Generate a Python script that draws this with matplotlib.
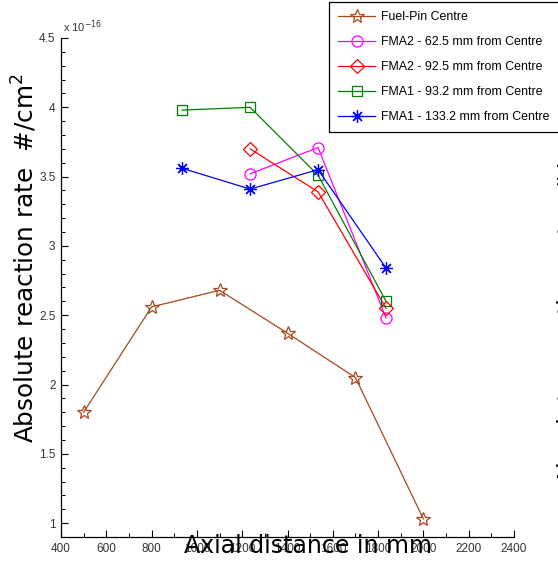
import matplotlib
matplotlib.use("Agg")
import matplotlib.pyplot as plt
from matplotlib.ticker import MultipleLocator

# Axial positions (mm) and reaction rates (in units of 1e-16 #/cm^2)
fuel_x = [500, 800, 1100, 1400, 1700, 2000]
fuel_y = [1.80, 2.56, 2.68, 2.37, 2.05, 1.03]

fma2_625_x = [1235, 1535, 1835]
fma2_625_y = [3.52, 3.71, 2.48]

fma2_925_x = [1235, 1535, 1835]
fma2_925_y = [3.70, 3.39, 2.55]

fma1_932_x = [935, 1235, 1535, 1835]
fma1_932_y = [3.98, 4.00, 3.51, 2.60]

fma1_1332_x = [935, 1235, 1535, 1835]
fma1_1332_y = [3.56, 3.41, 3.55, 2.84]

labels = [
    "Fuel-Pin Centre",
    "FMA2 - 62.5 mm from Centre",
    "FMA2 - 92.5 mm from Centre",
    "FMA1 - 93.2 mm from Centre",
    "FMA1 - 133.2 mm from Centre",
]

x_ticks = [400, 600, 800, 1000, 1200, 1400, 1600, 1800, 2000, 2200, 2400]
y_ticks = [1, 1.5, 2, 2.5, 3, 3.5, 4, 4.5]
y_tick_labels = ["1", "1.5", "2", "2.5", "3", "3.5", "4", "4.5"]

W, H = 558, 563
fig = plt.figure(figsize=(W / 100, H / 100), dpi=100)
ax = fig.add_axes([61 / W, 1 - 537 / H, (514 - 61) / W, (537 - 38) / H])

brown = "#A8481C"
ms = 8
ax.plot(fuel_x, fuel_y, color=brown, lw=0.9, marker="*", ms=ms + 2,
        mfc="none", mec=brown, mew=0.9, label=labels[0])
ax.plot(fma2_625_x, fma2_625_y, color="#FF00FF", lw=0.9, marker="o", ms=ms,
        mfc="none", mec="#FF00FF", mew=0.9, label=labels[1])
ax.plot(fma2_925_x, fma2_925_y, color="#FF0000", lw=0.9, marker="D", ms=ms - 1,
        mfc="none", mec="#FF0000", mew=0.9, label=labels[2])
ax.plot(fma1_932_x, fma1_932_y, color="#008000", lw=0.9, marker="s", ms=ms - 1,
        mfc="none", mec="#008000", mew=0.9, label=labels[3])
ax.plot(fma1_1332_x, fma1_1332_y, color="#0000FF", lw=0.9, marker=(8, 2, 0), ms=ms + 1,
        mfc="none", mec="#0000FF", mew=0.9, label=labels[4])

ax.set_xlim(400, 2400)
ax.set_ylim(0.9, 4.5)
ax.set_xticks(x_ticks)
ax.set_xticklabels([str(t) for t in x_ticks])
ax.set_yticks(y_ticks)
ax.set_yticklabels(y_tick_labels)
ax.xaxis.set_minor_locator(MultipleLocator(100))
ax.yaxis.set_minor_locator(MultipleLocator(0.1))

for side in ("top", "right"):
    ax.spines[side].set_visible(False)
for side in ("left", "bottom"):
    ax.spines[side].set_linewidth(0.9)
    ax.spines[side].set_color("black")

ax.tick_params(axis="both", which="major", direction="in", length=5, width=0.8,
               colors="black", labelcolor="#333333", pad=4)
ax.tick_params(axis="both", which="minor", direction="in", length=3, width=0.7)
for lab in ax.get_xticklabels() + ax.get_yticklabels():
    lab.set_fontfamily("Liberation Sans")
    lab.set_fontsize(8.5)

# scale factor for the y axis
fig.text(63 / W, 1 - 27 / H, "x 10$^{-16}$", fontsize=8, family="Liberation Sans",
         color="#333333", ha="left", va="center")

# axis titles
fig.text(308 / W, 1 - 553 / H, "Axial distance in mm", fontsize=17,
         family="DejaVu Sans", ha="center", va="baseline")
fig.text(34 / W, 1 - 258 / H, "Absolute reaction rate  #/cm$^2$", fontsize=17.8,
         family="DejaVu Sans", rotation=90, ha="center", va="baseline",
         rotation_mode="anchor")

# neighbouring panel's axis title at the right edge
fig.text(552.5 / W, 1 - 300 / H, "Absolute reaction rate  #/cm$^2$", fontsize=17.8,
         family="DejaVu Sans", rotation=90, ha="left", va="center")

leg = fig.legend(loc="upper left", bbox_to_anchor=(329 / W, 1 - 2 / H),
                 prop={"family": "Liberation Sans", "size": 8.9},
                 frameon=True, fancybox=False, edgecolor="black", framealpha=1,
                 handlelength=3.0, handletextpad=0.45, labelspacing=1.05,
                 borderpad=0.75, borderaxespad=0)
leg.get_frame().set_linewidth(0.9)

fig.savefig("out.png", dpi=100)
